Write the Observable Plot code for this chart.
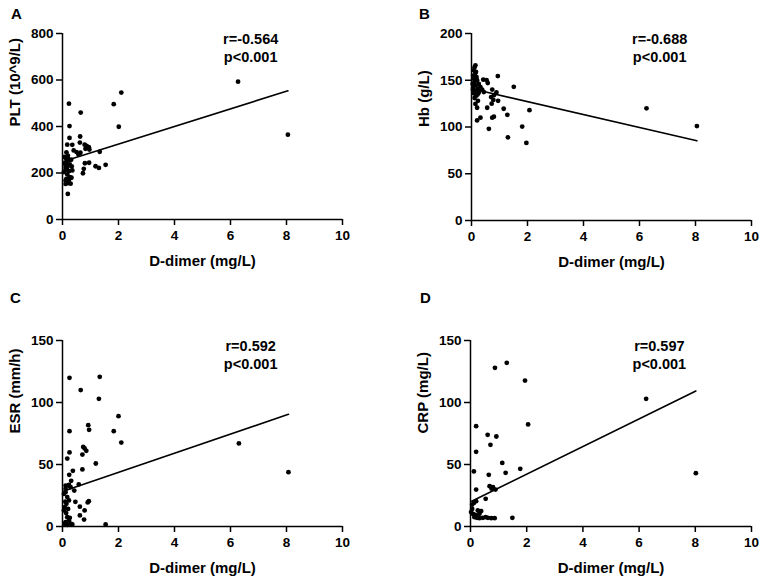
<!DOCTYPE html>
<html>
<head>
<meta charset="utf-8">
<script src="https://cdn.jsdelivr.net/npm/d3@7"></script>
<script src="https://cdn.jsdelivr.net/npm/@observablehq/plot@0.6"></script>
<style>
  html, body { margin: 0; padding: 0; background: #fff; }
  #root { position: relative; width: 767px; height: 586px; overflow: hidden; font-family: "Liberation Sans", Arial, sans-serif; }
  .panel { position: absolute; }
  .letter { position: absolute; font-weight: bold; font-size: 15px; color: #000; font-family: "Liberation Sans", Arial, sans-serif; }
</style>
</head>
<body>
<div id="root"></div>
<script>
// ---------- shared axis values ----------
const xLabel = "D-dimer (mg/L)";
const xTicks = [0, 2, 4, 6, 8, 10];

// ---------- Panel A: PLT ----------
const dimerA = [0.23,0.25,0.25,0.65,6.27,8.05,1.83,2.1,2.01,0.63,0.62,0.19,
  0.17,0.35,0.79,0.86,0.94,0.82,0.96,0.40,0.5,0.64,0.57,1.33,
  0.8,0.95,0.76,0.73,1.18,1.3,1.54,
  0.14,0.19,0.11,0.23,0.31,0.14,0.26,0.17,0.33,0.11,0.23,0.35,0.17,0.29,0.14,0.23,0.11,0.2,0.29,0.11,0.25,0.32,0.07,0.11,0.05,0.08,0.2];
const pltA = [498,402,351,460,593,365,496,546,399,357,331,110,
  322,321,322,317,311,304,301,297,290,287,280,291,
  242,244,218,199,229,222,235,
  289,275,265,254,257,242,237,225,228,214,208,211,194,179,175,170,153,157,154,168,182,180,269,226,204,240,262];
const ticksA = [0, 200, 400, 600, 800];
const lineA = { intercept: 248.5, slope: 37.9, from: 0.05, to: 8.05 };
const noteA = "r=-0.564\np<0.001";

// ---------- Panel B: Hb ----------
const dimerB = [8.05,6.25,0.94,1.51,2.07,1.96,1.3,1.81,0.62,1.15,1.28,0.8,0.74,0.56,0.32,0.2,0.2,0.58,0.42,0.54,0.74,0.89,0.95,0.14,
  0.7,0.78,0.72,0.8,
  0.11,0.08,0.14,0.06,0.18,0.08,0.2,0.11,0.26,0.14,0.32,0.06,0.23,0.38,0.14,0.08,0.26,0.18,0.11,0.23,0.14,0.44,0.04,0.1,0.16,0.05,0.22];
const hbB = [101,120,154.5,143,118,83,89,100.5,98,119.5,113,111,110,120.6,110,107,120.6,147,150.6,150,140,137,128,166,
  132,129,125,134,
  164,160.6,157.7,155,153.4,151.6,150,148,146,144.5,142.7,142,141,140,139,136,137,133.6,131,128,124.7,137.3,146,153,159,140,135];
const ticksB = [0, 50, 100, 150, 200];
const lineB = { intercept: 140.9, slope: -6.92, from: 0.05, to: 8.05 };
const noteB = "r=-0.688\np<0.001";

// ---------- Panel C: ESR ----------
const dimerC = [0.25,1.33,0.65,1.3,0.25,0.92,0.95,2.0,1.83,2.1,6.3,8.07,0.25,0.74,0.79,0.71,0.85,1.19,0.17,0.71,0.37,0.24,0.31,0.58,
  0.23,0.11,0.29,0.42,0.11,0.46,0.94,0.9,0.62,0.79,0.62,0.77,1.54,
  0.17,0.23,0.14,0.2,0.13,0.17,0.26,0.23,0.11,0.29,0.35,0.17,0.07,0.05,0.08,0.05,0.11,0.2,0.1];
const esrC = [119.9,120.7,110,103,76.9,81.7,78,89,76.9,67.7,67,43.8,59.7,64.2,63,58,61,50.8,54.8,46,44.9,41.7,36.8,33.9,
  33.6,33,31.7,29,27.7,19.9,20.4,19.4,16,13,8.9,5.6,1.6,
  23.7,21,18.3,14.2,10.8,7.5,7,4.8,3.5,2.2,1.6,1.3,2.2,13,15.6,26.3,30.4,33,20];
const ticksC = [0, 50, 100, 150];
const lineC = { intercept: 28.3, slope: 7.7, from: 0.05, to: 8.07 };
const noteC = "r=0.592\np<0.001";

// ---------- Panel D: CRP ----------
const dimerD = [1.29,0.87,1.94,6.25,2.05,0.2,0.61,0.92,0.71,0.2,1.13,0.12,1.25,1.77,8.02,0.65,0.68,0.8,0.89,0.2,0.54,0.2,0.12,0.06,
  0.02,0.08,0.2,0.32,0.38,0.14,0.23,0.32,0.44,0.62,0.74,0.86,1.49,0.06,0.26,0.12,0.54,0.75];
const crpD = [132,128,117.7,103,82.3,80.9,73.9,72.6,65.9,60.2,51.3,44.4,43.3,46.5,43,41.7,32.5,31.7,29.8,29.8,22.3,20.4,19,17.7,
  11.6,10.2,8.9,10.2,12.4,7.5,7,6.7,7,7,6.7,6.7,7,14.2,12.9,9.7,7.5,30.5];
const ticksD = [0, 50, 100, 150];
const lineD = { intercept: 19.95, slope: 11.14, from: 0.04, to: 8.02 };
const noteD = "r=0.597\np<0.001";

const yLabels = ["PLT (10^9/L)", "Hb (g/L)", "ESR (mm/h)", "CRP (mg/L)"];
const letters = ["A", "B", "C", "D"];

const FONT = "'Liberation Sans', Arial, Helvetica, sans-serif";

function panel({xs, ys, yTicks, fit, note, yLabel, width, height, ml, mr, mt, mb}) {
  const pts = xs.map((x, i) => ({x, y: ys[i]}));
  const ymax = yTicks[yTicks.length - 1];
  const fitPts = [fit.from, fit.to].map(x => ({x, y: fit.intercept + fit.slope * x}));
  return Plot.plot({
    width, height,
    marginLeft: ml, marginRight: mr, marginTop: mt, marginBottom: mb,
    style: { fontFamily: FONT, fontWeight: "bold", color: "#000", background: "transparent", overflow: "visible" },
    x: { domain: [0, 10] },
    y: { domain: [0, ymax] },
    marks: [
      Plot.axisX({ ticks: xTicks, tickSize: 6, tickPadding: 5, fontSize: 13.5, strokeWidth: 1.5, label: null }),
      Plot.axisY({ ticks: yTicks, tickSize: 6, tickPadding: 3, fontSize: 13.5, strokeWidth: 1.5, label: null }),
      Plot.ruleY([0], { x1: 0, x2: 10, stroke: "#000", strokeWidth: 1.5 }),
      Plot.ruleX([0], { y1: 0, y2: ymax, stroke: "#000", strokeWidth: 1.5 }),
      Plot.dot(pts, { x: "x", y: "y", r: 2.4, fill: "#000", stroke: "none" }),
      Plot.line(fitPts, { x: "x", y: "y", stroke: "#000", strokeWidth: 1.6 }),
      Plot.text([note], { x: 6.72, y: ymax, text: d => d, textAnchor: "middle", lineAnchor: "top", dy: -2, fontSize: 14.5, lineHeight: 1.21, fill: "#000", fontWeight: "bold" }),
      Plot.text([xLabel], { frameAnchor: "bottom", text: d => d, dy: 42, lineAnchor: "middle", fontSize: 15, fill: "#000", fontWeight: "bold" }),
      Plot.text([yLabel], { frameAnchor: "left", text: d => d, dx: -47, rotate: -90, lineAnchor: "middle", fontSize: 15, fill: "#000", fontWeight: "bold" })
    ]
  });
}

const specs = [
  { left: 0,   top: 0,   width: 383, height: 280, ml: 62, mr: 41, mt: 33, mb: 61, xs: dimerA, ys: pltA, yTicks: ticksA, fit: lineA, note: noteA, lx: 11, ly: 5 },
  { left: 380, top: 0,   width: 387, height: 280, ml: 91, mr: 16, mt: 33, mb: 60, xs: dimerB, ys: hbB,  yTicks: ticksB, fit: lineB, note: noteB, lx: 39, ly: 5 },
  { left: 0,   top: 290, width: 383, height: 296, ml: 62, mr: 41, mt: 50, mb: 60, xs: dimerC, ys: esrC, yTicks: ticksC, fit: lineC, note: noteC, lx: 10, ly: -1 },
  { left: 380, top: 290, width: 387, height: 296, ml: 90, mr: 16, mt: 50, mb: 60, xs: dimerD, ys: crpD, yTicks: ticksD, fit: lineD, note: noteD, lx: 40, ly: -1 }
];

const root = document.getElementById("root");
specs.forEach((s, i) => {
  const div = document.createElement("div");
  div.className = "panel";
  div.style.left = s.left + "px";
  div.style.top = s.top + "px";
  div.style.width = s.width + "px";
  div.style.height = s.height + "px";
  const svg = panel({ ...s, yLabel: yLabels[i] });
  svg.style.display = "block";
  div.appendChild(svg);
  const letter = document.createElement("div");
  letter.className = "letter";
  letter.textContent = letters[i];
  letter.style.left = s.lx + "px";
  letter.style.top = s.ly + "px";
  div.appendChild(letter);
  root.appendChild(div);
});
</script>
</body>
</html>
